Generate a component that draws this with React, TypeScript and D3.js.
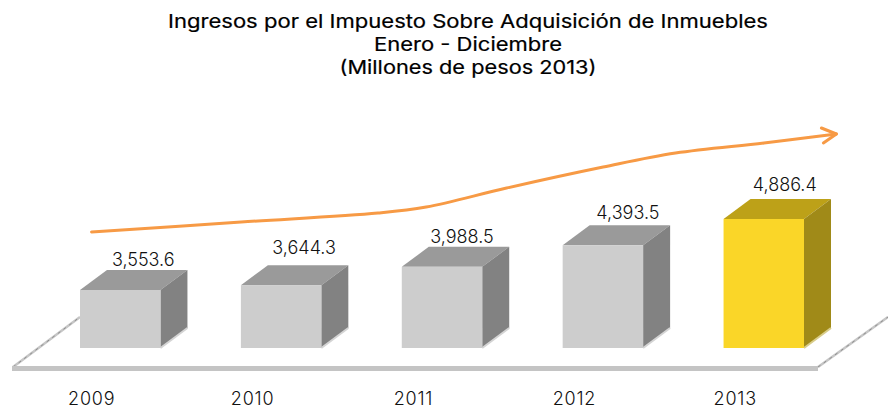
import React from 'react';
import * as d3 from 'd3';

const years = ['2009', '2010', '2011', '2012', '2013'];
const ingresos = [3553.6, 3644.3, 3988.5, 4393.5, 4886.4];
const titleLines = [
  'Ingresos por el Impuesto Sobre Adquisición de Inmuebles',
  'Enero - Diciembre',
  '(Millones de pesos 2013)',
];
const titleWidths = [600, 188, 257];

// trend arrow (year position, value)
const trendYears = [2008.82, 2009.75, 2010.6, 2010.9, 2011.4, 2012, 2012.45, 2013, 2013.45];
const trendValues = [4642, 4830, 4999, 5112, 5468, 5862, 6125, 6313, 6482];

const width = 888;
const height = 409;
const font = 'Inter, "Open Sans", sans-serif';

const x = d3.scaleBand<string>().domain(years).range([80, 804]).paddingInner(0.5);
const y = d3.scaleLinear().domain([2465, 4886.4]).range([348, 219]);
const xTrend = d3.scaleLinear().domain([2009, 2013]).range([120.5, 764]);

const depthX = 27;
const depthY = -20;
// the value labels sit a little unevenly above the bars
const labelLift = [24, 31, 24, 26, 28];
const labelShift = [23, 23, 20, 25, 21];

const trendLine = d3
  .line<number>()
  .x((d) => xTrend(d))
  .y((_, i) => y(trendValues[i]))
  .curve(d3.curveCatmullRom.alpha(0.5));

const poly = (pts: number[][]) => pts.map((p) => p.join(',')).join(' ');

export default function App() {
  const bw = x.bandwidth();
  const tip = [xTrend(trendYears[trendYears.length - 1]), y(trendValues[trendValues.length - 1])];

  return (
    <svg
      width={width}
      height={height}
      viewBox={`0 0 ${width} ${height}`}
      style={{ position: 'absolute', left: 0, top: 0, background: '#fff' }}
    >
      {titleLines.map((t, i) => (
        <text
          key={t}
          x={468}
          y={28 + i * 23}
          textAnchor="middle"
          textLength={titleWidths[i]}
          lengthAdjust="spacingAndGlyphs"
          fontFamily={font}
          fontSize={19}
          fontWeight={400}
          stroke="#000"
          strokeWidth={0.2}
          fill="#000"
        >
          {t}
        </text>
      ))}

      {/* floor */}
      <g fill="none">
        <line x1={13} y1={367} x2={80} y2={317} stroke="#c6c6c6" strokeWidth={2.5} />
        <line x1={13} y1={367} x2={80} y2={317} stroke="#8e8e8e" strokeWidth={1} strokeDasharray="3 4" />
        <line x1={818} y1={367} x2={888} y2={317} stroke="#c6c6c6" strokeWidth={2.5} />
        <line x1={818} y1={367} x2={888} y2={317} stroke="#8e8e8e" strokeWidth={1} strokeDasharray="3 4" />
      </g>
      <rect x={12} y={366} width={806} height={5} fill="#c4c4c4" />

      {years.map((yr, i) => {
        const x0 = x(yr) as number;
        const x1 = x0 + bw;
        const top = y(ingresos[i]);
        const base = y.range()[0];
        const last = i === years.length - 1;
        return (
          <g key={yr}>
            <polygon
              points={poly([[x0, top], [x0 + depthX, top + depthY], [x1 + depthX, top + depthY], [x1, top]])}
              fill={last ? '#bda118' : '#9a9a9a'}
            />
            <polygon
              points={poly([[x1, top], [x1 + depthX, top + depthY], [x1 + depthX, base + depthY], [x1, base]])}
              fill={last ? '#a08a18' : '#828282'}
            />
            <line
              x1={x1}
              y1={base}
              x2={x1 + depthX}
              y2={base + depthY}
              stroke={last ? '#d8cc8a' : '#d4d4d4'}
              strokeWidth={2}
            />
            <rect x={x0} y={top} width={bw} height={base - top} fill={last ? '#fad628' : '#cdcdcd'} />
            <text
              x={x0 + bw / 2 + labelShift[i]}
              y={top - labelLift[i]}
              textAnchor="middle"
              fontFamily={font}
              fontSize={18}
              fontWeight={300}
              fill="#111"
            >
              {d3.format(',.1f')(ingresos[i])}
            </text>
            <text
              x={x0 + bw / 2 - 28.5}
              y={405}
              textAnchor="middle"
              fontFamily={font}
              fontSize={18}
              fontWeight={300}
              letterSpacing={0.8}
              fill="#111"
            >
              {yr}
            </text>
          </g>
        );
      })}

      <path
        d={trendLine(trendYears) as string}
        fill="none"
        stroke="#f79a45"
        strokeWidth={3}
        strokeLinecap="round"
      />
      <polyline
        points={poly([[tip[0] - 15, tip[1] - 6], [tip[0], tip[1]], [tip[0] - 13, tip[1] + 9]])}
        fill="none"
        stroke="#f79a45"
        strokeWidth={3}
        strokeLinecap="round"
        strokeLinejoin="round"
      />
    </svg>
  );
}
